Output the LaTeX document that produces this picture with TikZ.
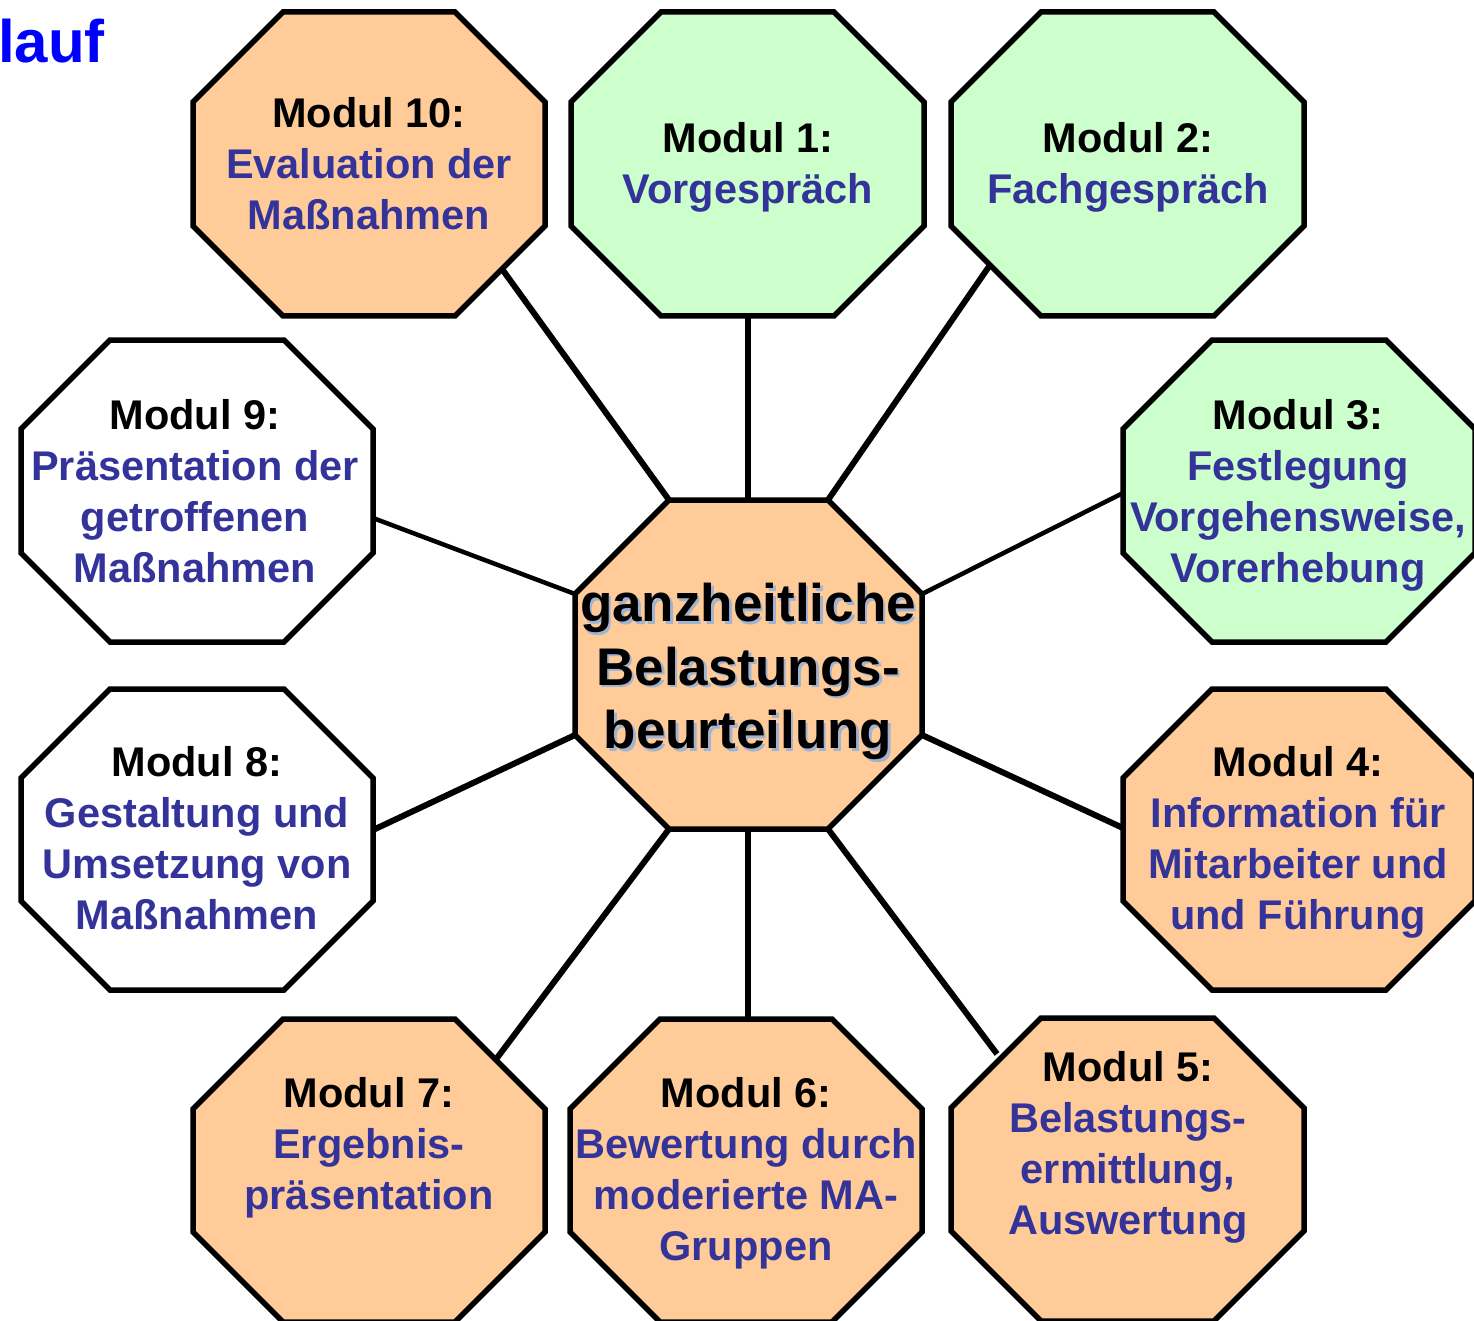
\documentclass[tikz,border=0pt]{standalone}
\usepackage{fontspec}
\setmainfont{Liberation Sans}
\definecolor{fgreen}{HTML}{CCFFCC}
\definecolor{forange}{HTML}{FFCC99}
\definecolor{tblue}{HTML}{333399}
\definecolor{hblue}{HTML}{0000FF}
\definecolor{shadowc}{RGB}{160,180,210}
\tikzset{
  octo/.style={draw=black, line width=5.5pt, line join=miter},
  conn/.style={draw=black, line width=6pt},
  connthin/.style={draw=black, line width=4.5pt},
  modtext/.style={align=center, text=tblue, font=\bfseries\fontsize{41.5}{51}\selectfont, inner sep=0pt},
  centertext/.style={align=center, font=\bfseries\fontsize{53}{63.5}\selectfont, inner sep=0pt},
  headtext/.style={text=hblue, font=\bfseries\fontsize{60}{70}\selectfont, inner sep=0pt, anchor=base west}
}
% name, x1, y1, x2, y2, cut, fill
\newcommand\myocta[7]{%
  \draw[octo, fill=#7] ({#2+#6},#3) -- ({#4-#6},#3) -- (#4,{#3+#6}) -- (#4,{#5-#6})
    -- ({#4-#6},#5) -- ({#2+#6},#5) -- (#2,{#5-#6}) -- (#2,{#3+#6}) -- cycle;
  \coordinate (#1) at ({(#2+#4)/2},{(#3+#5)/2});
}
\begin{document}
\begin{tikzpicture}[x=1pt,y=-1pt]
\useasboundingbox (0,0) rectangle (1474,1321);
\clip (0,0) rectangle (1474,1321);
\fill[white] (0,0) rectangle (1474,1321);

% connector end points on the centre octagon
\coordinate (c-n)  at (748,500);
\coordinate (c-s)  at (748,829);
\coordinate (c-nw) at (669,500);
\coordinate (c-ne) at (828,500);
\coordinate (c-wn) at (575,594);
\coordinate (c-ws) at (575,735);
\coordinate (c-en) at (922,594);
\coordinate (c-es) at (922,735);
\coordinate (c-sw) at (669,829);
\coordinate (c-se) at (828,829);
% connector end points on the module octagons
\coordinate (p10) at (502,269);
\coordinate (p1)  at (748,316);
\coordinate (p2)  at (990,265);
\coordinate (p3)  at (1123,493);
\coordinate (p4)  at (1123,828);
\coordinate (p5)  at (997,1054);
\coordinate (p6)  at (748,1019);
\coordinate (p7)  at (497,1058);
\coordinate (p8)  at (373,830);
\coordinate (p9)  at (373,518);

% connectors
\draw[conn] (p10) -- (c-nw);
\draw[conn] (p1) -- (c-n);
\draw[conn] (p2) -- (c-ne);
\draw[connthin] (p3) -- (c-en);
\draw[conn] (p4) -- (c-es);
\draw[conn] (p5) -- (c-se);
\draw[conn] (p6) -- (c-s);
\draw[conn] (p7) -- (c-sw);
\draw[conn] (p8) -- (c-ws);
\draw[connthin] (p9) -- (c-wn);

% octagons
\myocta{o10}{193}{12}{545}{316}{90}{forange}
\myocta{o1}{571}{12}{924}{316}{90}{fgreen}
\myocta{o2}{951}{12}{1304}{316}{90}{fgreen}
\myocta{o9}{21}{340}{373}{642}{89}{white}
\myocta{o3}{1123}{340}{1475}{642}{89}{fgreen}
\myocta{o8}{21}{689}{373}{990}{89}{white}
\myocta{o4}{1123}{689}{1475}{990}{89}{forange}
\myocta{o7}{193}{1019}{545}{1322}{90}{forange}
\myocta{o6}{570}{1019}{922}{1322}{90}{forange}
\myocta{o5}{951}{1018}{1304}{1321}{90}{forange}
\myocta{oc}{575}{500}{922}{829}{94}{forange}

% texts
\node[headtext] (head) at (-2,63) {lauf};

\node[modtext] (t10) at (369,164) {\textcolor{black}{Modul 10:}\\Evaluation der\\Maßnahmen};
\node[modtext] (t1) at (748,167) {\textcolor{black}{Modul 1:}\\Vorgespräch};
\node[modtext] (t2) at (1128,167) {\textcolor{black}{Modul 2:}\\Fachgespräch};
\node[modtext] (t9) at (195,491) {\textcolor{black}{Modul 9:}\\Präsentation der\\getroffenen\\Maßnahmen};
\node[modtext] (t3) at (1298,495) {\textcolor{black}{Modul 3:}\\Festlegung\\Vorgehensweise,\\Vorerhebung};
\node[modtext] (t8) at (197,838) {\textcolor{black}{Modul 8:}\\Gestaltung und\\Umsetzung von\\Maßnahmen};
\node[modtext] (t4) at (1298,842) {\textcolor{black}{Modul 4:}\\Information für\\Mitarbeiter und\\und Führung};
\node[modtext] (t7) at (369,1148) {\textcolor{black}{Modul 7:}\\Ergebnis-\\präsentation};
\node[modtext] (t6) at (746,1173) {\textcolor{black}{Modul 6:}\\Bewertung durch\\moderierte MA-\\Gruppen};
\node[modtext] (t5) at (1128,1147) {\textcolor{black}{Modul 5:}\\Belastungs-\\ermittlung,\\Auswertung};

\node[centertext, text=shadowc] (tcs) at (750.5,674) {ganzheitliche\\Belastungs-\\beurteilung};
\node[centertext, text=black] (tc) at (748,671.5) {ganzheitliche\\Belastungs-\\beurteilung};
\end{tikzpicture}
\end{document}
